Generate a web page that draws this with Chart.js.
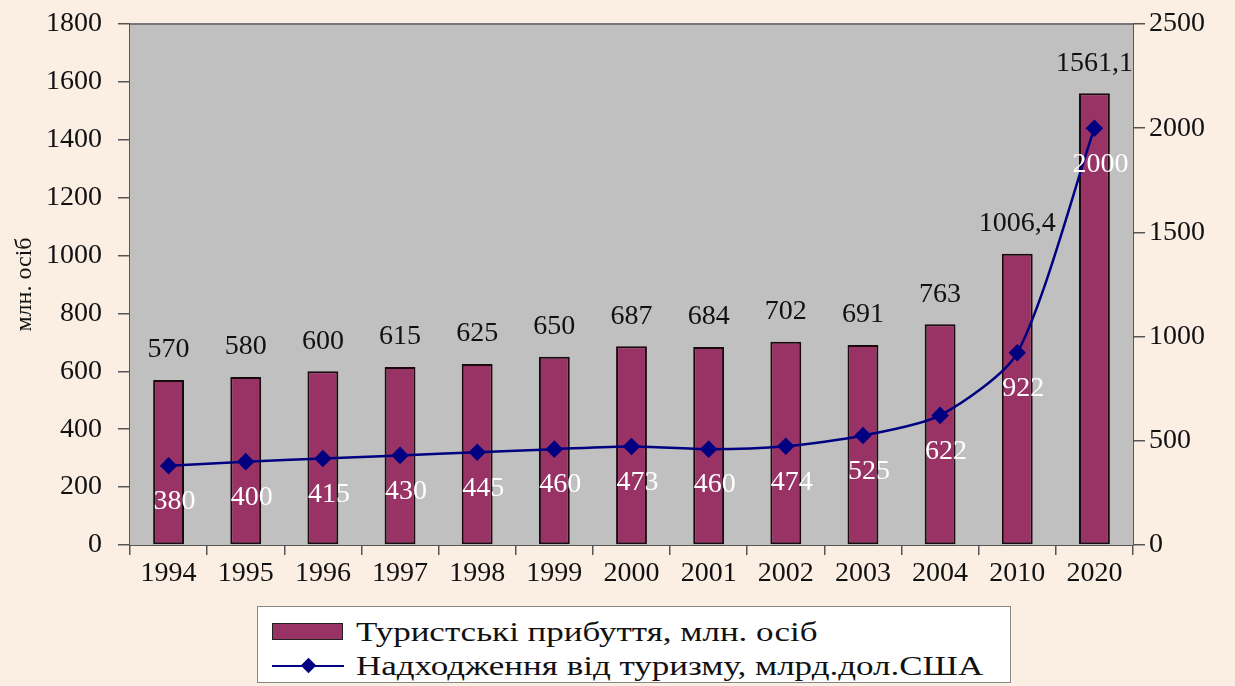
<!DOCTYPE html>
<html>
<head>
<meta charset="utf-8">
<script src="https://cdn.jsdelivr.net/npm/chart.js@4.4.1/dist/chart.umd.min.js"></script>
<style>
  html,body{margin:0;padding:0;background:#fbefe4;}
  #wrap{position:relative;width:1235px;height:686px;overflow:hidden;}
  #box{position:absolute;left:0;top:0;width:1235px;height:600px;}
  #legend{position:absolute;left:257px;top:606px;width:754px;height:77px;background:#fff;border:1px solid #888;box-sizing:border-box;
    font-family:'Liberation Serif','DejaVu Serif','Times New Roman',serif;font-size:28px;color:#111;}
  .row{position:absolute;left:14px;height:30px;line-height:30px;white-space:nowrap;}
  .sw{display:inline-block;vertical-align:middle;width:72px;height:18px;position:relative;}
  .txt{display:inline-block;vertical-align:middle;transform:scaleX(1.25);transform-origin:0 50%;margin-left:12px;}
</style>
</head>
<body>
<div id="wrap">
  <div id="box"><canvas id="c"></canvas></div>
  <div id="legend">
    <div class="row" style="top:7px"><span class="sw"><span style="position:absolute;left:0;top:0;width:71px;height:17px;background:#993366;border:1px solid #222;box-sizing:border-box"></span></span><span class="txt">Туристські прибуття, млн. осіб</span></div>
    <div class="row" style="top:41px"><span class="sw"><span style="position:absolute;left:0;top:8px;width:72px;height:2px;background:#000080"></span><span style="position:absolute;left:31px;top:3px;width:11px;height:11px;background:#000080;transform:rotate(45deg)"></span></span><span class="txt">Надходження від туризму, млрд.дол.США</span></div>
  </div>
</div>
<script>
const years = ['1994','1995','1996','1997','1998','1999','2000','2001','2002','2003','2004','2010','2020'];
const arrivals = [570, 580, 600, 615, 625, 650, 687, 684, 702, 691, 763, 1006.4, 1561.1];
const receipts = [380, 400, 415, 430, 445, 460, 473, 460, 474, 525, 622, 922, 2000];
const leftTicks = [0, 1800, 200];
const rightTicks = [0, 2500, 500];

const fmt = v => String(v).replace('.', ',');
const serif = "'Liberation Serif', 'DejaVu Serif', 'Times New Roman', serif";
Chart.defaults.font.family = serif;
Chart.defaults.color = '#111';

// сірий фон області графіка + верхня рамка
const plotBg = {
  id: 'plotBg',
  beforeDatasetsDraw(chart){
    const {ctx, chartArea:a} = chart;
    ctx.save();
    ctx.fillStyle = '#c0c0c0';
    ctx.fillRect(a.left, a.top, a.right - a.left, a.bottom - a.top);
    ctx.strokeStyle = '#777';
    ctx.lineWidth = 2;
    ctx.beginPath(); ctx.moveTo(a.left, a.top); ctx.lineTo(a.right, a.top); ctx.stroke();
    ctx.restore();
  }
};

// підписи значень
const valueLabels = {
  id: 'valueLabels',
  afterDatasetsDraw(chart){
    const {ctx} = chart;
    ctx.save();
    ctx.font = '28px ' + serif;
    ctx.textAlign = 'center';
    ctx.textBaseline = 'middle';
    const bars = chart.getDatasetMeta(0).data;
    ctx.fillStyle = '#111';
    bars.forEach((b, i) => ctx.fillText(fmt(arrivals[i]), b.x, b.y - 30));
    const pts = chart.getDatasetMeta(1).data;
    ctx.fillStyle = '#fff';
    pts.forEach((p, i) => ctx.fillText(fmt(receipts[i]), p.x + 6, p.y + 36));
    ctx.restore();
  }
};

const axisGrid = { drawOnChartArea:false, drawTicks:true, tickLength:12, color:'#555', lineWidth:1.5 };
const axisBorder = { display:true, color:'#555', width:2 };
const plain = v => String(v);

new Chart(document.getElementById('c'), {
  data: {
    labels: years,
    datasets: [
      { type:'bar', label:'Туристські прибуття, млн. осіб', data:arrivals, yAxisID:'y', order:1,
        backgroundColor:'#993366', borderColor:'#1a0a10', borderWidth:2, borderSkipped:false,
        barPercentage:0.4, categoryPercentage:1 },
      { type:'line', label:'Надходження від туризму, млрд.дол.США', data:receipts, yAxisID:'y1', order:0,
        borderColor:'#000080', borderWidth:2.5, tension:0.25,
        pointStyle:'rectRot', pointRadius:7, pointBackgroundColor:'#000080', pointBorderColor:'#000080' }
    ]
  },
  options: {
    responsive:true, maintainAspectRatio:false, animation:false,
    layout:{ padding:{ top:24, left:0, right:0, bottom:0 } },
    plugins:{ legend:{ display:false }, tooltip:{ enabled:false } },
    scales:{
      x:{
        grid:{ ...axisGrid, offset:true, tickLength:10 },
        border:axisBorder,
        ticks:{ font:{ size:28 }, color:'#111', padding:2, maxRotation:0 },
        afterFit(s){ s.height = 55; }
      },
      y:{
        position:'left', min:leftTicks[0], max:leftTicks[1],
        // пробіли в кінці зсувають підписи лівіше від засічок
        ticks:{ stepSize:leftTicks[2], font:{ size:28 }, color:'#111', padding:2, callback:v => v + '  ' },
        grid:axisGrid, border:axisBorder,
        title:{ display:true, text:'млн. осіб', font:{ size:24 }, color:'#111', padding:{ top:10, bottom:0 } },
        afterFit(s){ s.width = 130; }
      },
      y1:{
        position:'right', min:rightTicks[0], max:rightTicks[1],
        ticks:{ stepSize:rightTicks[2], font:{ size:28 }, color:'#111', padding:4, callback:plain },
        grid:axisGrid, border:axisBorder,
        afterFit(s){ s.width = 102; }
      }
    }
  },
  plugins:[plotBg, valueLabels]
});
</script>
</body>
</html>
